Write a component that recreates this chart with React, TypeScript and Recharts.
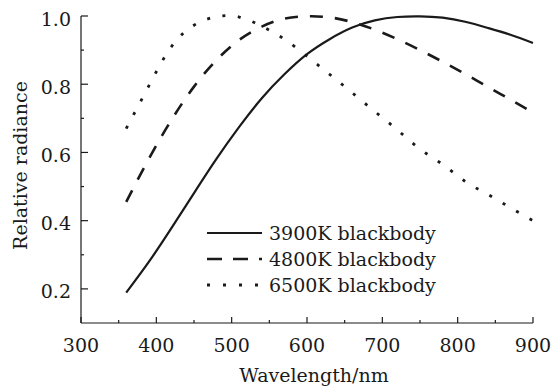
import React from 'react';
import { LineChart, Line, XAxis, YAxis, Legend } from 'recharts';

// wavelength samples (nm) and relative radiance
const wavelengths = [360, 390, 420, 450, 480, 510, 540, 570, 600, 630, 660, 690, 720, 750, 780, 810, 840, 870, 900];
const bb3900 = [0.189, 0.279, 0.378, 0.481, 0.582, 0.675, 0.759, 0.829, 0.888, 0.932, 0.966, 0.987, 0.997, 0.999, 0.995, 0.983, 0.965, 0.945, 0.921];
const bb4800 = [0.455, 0.581, 0.695, 0.793, 0.871, 0.93, 0.969, 0.992, 0.999, 0.996, 0.982, 0.96, 0.932, 0.9, 0.866, 0.83, 0.792, 0.755, 0.717];
const bb6500 = [0.67, 0.795, 0.91, 0.973, 0.998, 0.997, 0.97, 0.932, 0.882, 0.829, 0.775, 0.72, 0.666, 0.61, 0.565, 0.515, 0.477, 0.438, 0.4];

const xTicks = [300, 350, 400, 450, 500, 550, 600, 650, 700, 750, 800, 850, 900];
const yTicks = [0.2, 0.3, 0.4, 0.5, 0.6, 0.7, 0.8, 0.9, 1.0];

const series = [
  { key: 'bb3900', name: '3900K blackbody', dash: undefined, legendDash: undefined, width: 2.2 },
  { key: 'bb4800', name: '4800K blackbody', dash: '13 12', legendDash: '15 11', width: 2.6 },
  { key: 'bb6500', name: '6500K blackbody', dash: '3 12.5', legendDash: '3 13', width: 2.8 },
];

const data = wavelengths.map((wl, i) => ({
  wl,
  bb3900: bb3900[i],
  bb4800: bb4800[i],
  bb6500: bb6500[i],
}));

// only DejaVu Serif resolves to a serif face in this sandbox
const FONT = "'DejaVu Serif', serif";
const FS = 19;
const INK = '#1a1a1a';

const XTick = (props: any) => {
  const { x, y, payload } = props;
  const major = payload.value % 100 === 0;
  return (
    <g>
      <line x1={x} y1={y} x2={x} y2={y - (major ? 6 : 3)} stroke={INK} strokeWidth={1.2} />
      {major && (
        <text x={x} y={y + 29} textAnchor="middle" style={{ fontFamily: FONT, fontSize: FS }} fill={INK}>
          {payload.value}
        </text>
      )}
    </g>
  );
};

const YTick = (props: any) => {
  const { x, y, payload } = props;
  const major = Math.round(payload.value * 10) % 2 === 0;
  return (
    <g>
      <line x1={x} y1={y} x2={x + (major ? 7 : 3)} y2={y} stroke={INK} strokeWidth={1.2} />
      {major && (
        <text x={x - 10} y={y + 9.5} textAnchor="end" style={{ fontFamily: FONT, fontSize: FS }} fill={INK}>
          {payload.value.toFixed(1)}
        </text>
      )}
    </g>
  );
};

const XLabel = (props: any) => {
  const vb = props.viewBox || { x: 81, y: 323, width: 452 };
  return (
    <text x={vb.x + vb.width / 2 + 7} y={vb.y + 59} textAnchor="middle" style={{ fontFamily: FONT, fontSize: FS }} fill={INK}>
      Wavelength/nm
    </text>
  );
};

const YLabel = (props: any) => {
  const vb = props.viewBox || { x: 0, y: 16, height: 307 };
  const cx = vb.x + 27;
  const cy = vb.y + vb.height / 2 - 4;
  return (
    <text transform={`translate(${cx}, ${cy}) rotate(-90)`} textAnchor="middle" style={{ fontFamily: FONT, fontSize: FS }} fill={INK}>
      Relative radiance
    </text>
  );
};

const renderLegend = () => (
  <div style={{ fontFamily: FONT, fontSize: FS, color: INK }}>
    {series.map((s) => (
      <div key={s.key} style={{ display: 'flex', alignItems: 'center', height: 26, lineHeight: '26px' }}>
        <svg width={55} height={26} style={{ marginRight: 7 }}>
          <line x1={0} y1={13} x2={55} y2={13} stroke={INK} strokeWidth={s.width} strokeDasharray={s.legendDash} />
        </svg>
        <span>{s.name}</span>
      </div>
    ))}
  </div>
);

export default function App() {
  return (
    <div style={{ position: 'absolute', left: 0, top: 0, background: '#fff' }}>
      <LineChart width={554} height={387} data={data} margin={{ top: 16, right: 21, bottom: 0, left: 0 }}>
        <XAxis
          dataKey="wl"
          type="number"
          domain={[300, 900]}
          ticks={xTicks}
          interval={0}
          tickSize={0}
          tickMargin={0}
          tickLine={false}
          tick={(p: any) => <XTick {...p} />}
          axisLine={{ stroke: INK, strokeWidth: 1.2 }}
          height={64}
          label={{ content: XLabel }}
        />
        <YAxis
          type="number"
          domain={[0.1, 1.0]}
          ticks={yTicks}
          interval={0}
          tickSize={0}
          tickMargin={0}
          tickLine={false}
          tick={(p: any) => <YTick {...p} />}
          axisLine={{ stroke: INK, strokeWidth: 1.2 }}
          width={81}
          label={{ content: YLabel }}
        />
        <Legend
          layout="vertical"
          align="center"
          verticalAlign="middle"
          content={renderLegend}
          wrapperStyle={{ position: 'absolute', left: 207, top: 220, width: 260 }}
        />
        {series.map((s) => (
          <Line
            key={s.key}
            type="natural"
            dataKey={s.key}
            name={s.name}
            stroke={INK}
            strokeWidth={s.width}
            strokeDasharray={s.dash}
            dot={false}
            activeDot={false}
            isAnimationActive={false}
          />
        ))}
      </LineChart>
    </div>
  );
}
